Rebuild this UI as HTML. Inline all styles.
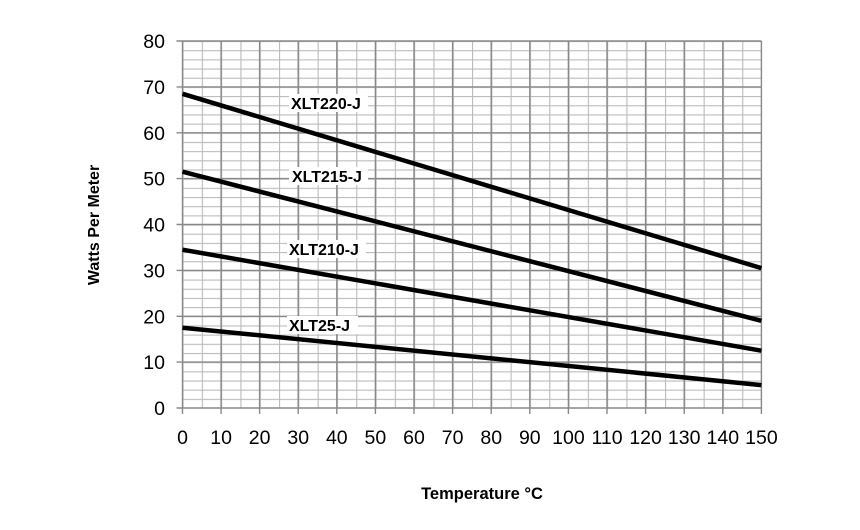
<!DOCTYPE html>
<html><head><style>body{margin:0;background:#fff}svg{display:block}</style></head><body>
<svg width="860" height="530" xmlns="http://www.w3.org/2000/svg" font-family="Liberation Sans, sans-serif">
<defs>
<pattern id="p" patternUnits="userSpaceOnUse" x="182.5" y="41" width="19.3" height="9.175">
<line x1="0" y1="0" x2="0" y2="9.175" stroke="#bbb" stroke-width="2.2"/>
<line x1="0" y1="0" x2="19.3" y2="0" stroke="#bbb" stroke-width="2.2"/>
</pattern>
</defs>
<rect x="182.5" y="41" width="578.9" height="367" fill="url(#p)"/>
<g stroke="#888" stroke-width="1.4">
<line x1="182.5" y1="41" x2="182.5" y2="414"/><line x1="221.1" y1="41" x2="221.1" y2="414"/><line x1="259.6" y1="41" x2="259.6" y2="414"/><line x1="298.2" y1="41" x2="298.2" y2="414"/><line x1="336.8" y1="41" x2="336.8" y2="414"/><line x1="375.4" y1="41" x2="375.4" y2="414"/><line x1="414" y1="41" x2="414" y2="414"/><line x1="452.6" y1="41" x2="452.6" y2="414"/><line x1="491.2" y1="41" x2="491.2" y2="414"/><line x1="529.8" y1="41" x2="529.8" y2="414"/><line x1="568.4" y1="41" x2="568.4" y2="414"/><line x1="607" y1="41" x2="607" y2="414"/><line x1="645.6" y1="41" x2="645.6" y2="414"/><line x1="684.2" y1="41" x2="684.2" y2="414"/><line x1="722.8" y1="41" x2="722.8" y2="414"/><line x1="761.4" y1="41" x2="761.4" y2="414"/>
<line x1="176.5" y1="408" x2="761.4" y2="408"/><line x1="176.5" y1="362.1" x2="761.4" y2="362.1"/><line x1="176.5" y1="316.3" x2="761.4" y2="316.3"/><line x1="176.5" y1="270.4" x2="761.4" y2="270.4"/><line x1="176.5" y1="224.5" x2="761.4" y2="224.5"/><line x1="176.5" y1="178.6" x2="761.4" y2="178.6"/><line x1="176.5" y1="132.8" x2="761.4" y2="132.8"/><line x1="176.5" y1="86.9" x2="761.4" y2="86.9"/><line x1="176.5" y1="41" x2="761.4" y2="41"/>
</g>
<g font-size="19.5" text-anchor="end">
<text x="165" y="415">0</text><text x="165" y="369.1">10</text><text x="165" y="323.3">20</text><text x="165" y="277.4">30</text><text x="165" y="231.5">40</text><text x="165" y="185.6">50</text><text x="165" y="139.8">60</text><text x="165" y="93.9">70</text><text x="165" y="48">80</text>
</g>
<g font-size="19.5" text-anchor="middle">
<text x="182.5" y="444">0</text><text x="221.1" y="444">10</text><text x="259.6" y="444">20</text><text x="298.2" y="444">30</text><text x="336.8" y="444">40</text><text x="375.4" y="444">50</text><text x="414" y="444">60</text><text x="452.6" y="444">70</text><text x="491.2" y="444">80</text><text x="529.8" y="444">90</text><text x="568.4" y="444">100</text><text x="607" y="444">110</text><text x="645.6" y="444">120</text><text x="684.2" y="444">130</text><text x="722.8" y="444">140</text><text x="761.4" y="444">150</text>
</g>
<g stroke="#000" stroke-width="4.5">
<line x1="182.5" y1="93.8" x2="761.4" y2="268.1"/>
<line x1="182.5" y1="171.7" x2="761.4" y2="320.8"/>
<line x1="182.5" y1="249.7" x2="761.4" y2="350.7"/>
<line x1="182.5" y1="327.7" x2="761.4" y2="385.1"/>
</g>
<g fill="#fff">
<rect x="289" y="94" width="79" height="18"/><rect x="289" y="167" width="79" height="18"/><rect x="287" y="240" width="79" height="18"/><rect x="287" y="316" width="71" height="18"/>
</g>
<g font-size="16" font-weight="bold">
<text x="291" y="109">XLT220-J</text><text x="292" y="182">XLT215-J</text><text x="289" y="255">XLT210-J</text><text x="289" y="331">XLT25-J</text>
</g>
<text x="482" y="499" font-size="16.5" font-weight="bold" text-anchor="middle">Temperature °C</text>
<text transform="translate(99,225) rotate(-90)" font-size="16" font-weight="bold" text-anchor="middle">Watts Per Meter</text>
</svg>
</body></html>
